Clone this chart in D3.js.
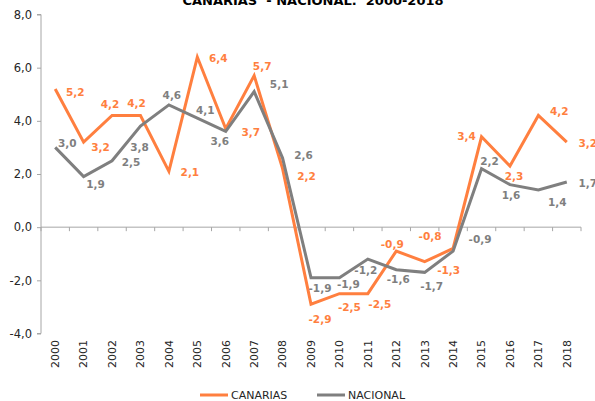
<!DOCTYPE html>
<html>
<head>
<meta charset="utf-8">
<script src="https://cdn.jsdelivr.net/npm/d3@7"></script>
<style>
  html, body { margin: 0; padding: 0; background: #fff; }
  svg { display: block; font-family: "DejaVu Sans", Verdana, sans-serif; }
</style>
</head>
<body>
<svg id="chart" width="595" height="401"></svg>
<script>
(function() {
  'use strict';

  var years = ['2000', '2001', '2002', '2003', '2004', '2005', '2006', '2007', '2008', '2009',
    '2010', '2011', '2012', '2013', '2014', '2015', '2016', '2017', '2018'];
  var canarias = [5.2, 3.2, 4.2, 4.2, 2.1, 6.4, 3.7, 5.7, 2.2, -2.9,
    -2.5, -2.5, -0.9, -1.3, -0.8, 3.4, 2.3, 4.2, 3.2];
  var nacional = [3.0, 1.9, 2.5, 3.8, 4.6, 4.1, 3.6, 5.1, 2.6, -1.9,
    -1.9, -1.2, -1.6, -1.7, -0.9, 2.2, 1.6, 1.4, 1.7];
  var yTicks = [-4, -2, 0, 2, 4, 6, 8];
  var title = 'CANARIAS  - NACIONAL.  2000-2018';

  // label nudges (px) so labels sit where the original put them
  var canNudge = [[20, 3], [17, 5], [-2, -11], [-4, -12], [21, 1], [21, 1], [25, 4], [8, -9], [24, 8], [9, 15],
    [10, 14], [12, 11], [-4, -7], [24, 9], [-23, -12], [-15, 0], [4, 10], [21, -4], [21, 1]];
  var nacNudge = [[12, -4], [12, 8], [19, 2], [-1, 21], [3, -10], [8, -8], [-6, 10], [25, -7], [21, -3], [9, 11],
    [9, 7], [-2, 11], [2, 10], [7, 14], [27, -12], [8, -7], [1, 11], [19, 12], [21, 1]];

  var series = [
    { name: 'CANARIAS', values: canarias, nudge: canNudge, color: '#FF7F3F' },
    { name: 'NACIONAL', values: nacional, nudge: nacNudge, color: '#7F7F7F' }
  ];

  var svg = d3.select('#chart');
  var left = 41, right = 581, top = 14.5, bottom = 333.5;
  var axisColor = '#A6A6A6';

  var x = d3.scaleBand().domain(years).range([left, right]);
  var y = d3.scaleLinear().domain([-4, 8]).range([bottom, top]);
  // Spanish style: comma decimal, plain hyphen for minus
  var fmt = function(v) { return v.toFixed(1).replace('.', ','); };

  // title (partly cut off at the top, as in the source)
  svg.append('text')
    .attr('x', 313).attr('y', 5)
    .attr('text-anchor', 'middle')
    .attr('font-size', 13).attr('font-weight', 'bold')
    .attr('fill', '#000')
    .style('white-space', 'pre')
    .text(title);

  // y axis
  var yAxis = svg.append('g')
    .attr('transform', 'translate(' + left + ',0)')
    .call(d3.axisLeft(y).tickValues(yTicks).tickSize(4).tickPadding(5).tickFormat(fmt));
  yAxis.select('.domain').attr('stroke', axisColor).attr('d', 'M-4,' + top + 'H0V' + bottom + 'H-4');
  yAxis.selectAll('.tick line').attr('stroke', axisColor);
  yAxis.selectAll('.tick text').attr('font-size', 11.5).attr('fill', '#262626')
    .attr('font-family', '"DejaVu Sans", Verdana, sans-serif');

  // x axis at zero, ticks between categories
  var x0 = y(0);
  svg.append('line')
    .attr('x1', left).attr('x2', right).attr('y1', x0).attr('y2', x0)
    .attr('stroke', axisColor).attr('stroke-width', 1);
  svg.append('g').selectAll('line')
    .data(years.concat(['end']))
    .join('line')
    .attr('x1', function(d, i) { return left + i * x.step(); })
    .attr('x2', function(d, i) { return left + i * x.step(); })
    .attr('y1', x0).attr('y2', x0 + 4)
    .attr('stroke', axisColor);

  // year labels, rotated, below the plot
  svg.append('g').selectAll('text')
    .data(years)
    .join('text')
    .attr('transform', function(d) {
      return 'translate(' + (x(d) + x.bandwidth() / 2) + ',340) rotate(-90)';
    })
    .attr('text-anchor', 'end')
    .attr('dy', '0.35em')
    .attr('font-size', 11)
    .attr('fill', '#262626')
    .text(function(d) { return d; });

  var cx = function(d, i) { return x(years[i]) + x.bandwidth() / 2; };
  var line = d3.line()
    .x(cx)
    .y(function(d) { return y(d); });

  series.forEach(function(s) {
    svg.append('path')
      .datum(s.values)
      .attr('d', line)
      .attr('fill', 'none')
      .attr('stroke', s.color)
      .attr('stroke-width', 3)
      .attr('stroke-linejoin', 'miter')
      .attr('stroke-miterlimit', 4);
  });

  series.forEach(function(s) {
    svg.append('g').selectAll('text')
      .data(s.values)
      .join('text')
      .attr('x', function(d, i) { return cx(d, i) + s.nudge[i][0]; })
      .attr('y', function(d, i) { return y(d) + s.nudge[i][1]; })
      .attr('dy', '0.35em')
      .attr('text-anchor', 'middle')
      .attr('font-size', 10.5)
      .attr('font-weight', 'bold')
      .attr('fill', s.color)
      .text(fmt);
  });

  // legend
  var legendPos = [200, 317];
  var lg = svg.append('g').selectAll('g')
    .data(series)
    .join('g')
    .attr('transform', function(d, i) { return 'translate(' + legendPos[i] + ',395)'; });
  lg.append('line')
    .attr('x1', 0).attr('x2', 28).attr('y1', 0).attr('y2', 0)
    .attr('stroke', function(d) { return d.color; })
    .attr('stroke-width', 3);
  lg.append('text')
    .attr('x', 31).attr('dy', '0.35em')
    .attr('font-size', 11)
    .attr('fill', '#262626')
    .text(function(d) { return d.name; });
})();
</script>
</body>
</html>
